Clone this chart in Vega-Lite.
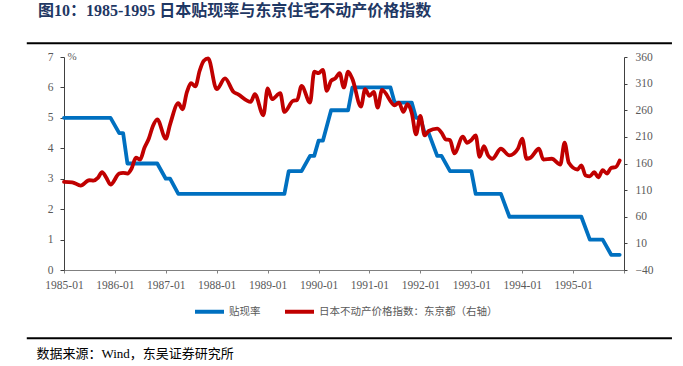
{
  "$schema": "https://vega.github.io/schema/vega-lite/v6.json",
  "width": 560,
  "height": 213,
  "autosize": {"type": "none"},
  "padding": {"left": 64, "top": 57, "right": 59, "bottom": 96},
  "background": "white",
  "title": {
    "text": "图10：1985-1995 日本贴现率与东京住宅不动产价格指数",
    "anchor": "start",
    "frame": "group",
    "font": "Liberation Serif, Noto Sans CJK SC",
    "fontSize": 16,
    "fontWeight": "bold",
    "color": "#1F3864",
    "dx": -26,
    "offset": 23
  },
  "config": {
    "view": {"stroke": null},
    "axis": {
      "grid": false,
      "labelFont": "Liberation Serif",
      "labelFontSize": 11.5,
      "labelColor": "#595959",
      "domainColor": "#404040",
      "tickColor": "#404040"
    },
    "legend": {
      "labelFont": "Noto Sans CJK SC",
      "labelFontSize": 10.5,
      "labelColor": "#595959"
    }
  },
  "datasets": {
    "rate": [
      {"date": "1985-01-01", "value": 5.0, "series": "贴现率"},
      {"date": "1985-12-01", "value": 5.0, "series": "贴现率"},
      {"date": "1986-02-01", "value": 4.5, "series": "贴现率"},
      {"date": "1986-03-01", "value": 4.5, "series": "贴现率"},
      {"date": "1986-04-01", "value": 3.5, "series": "贴现率"},
      {"date": "1986-11-01", "value": 3.5, "series": "贴现率"},
      {"date": "1987-01-01", "value": 3.0, "series": "贴现率"},
      {"date": "1987-02-01", "value": 3.0, "series": "贴现率"},
      {"date": "1987-04-01", "value": 2.5, "series": "贴现率"},
      {"date": "1989-05-01", "value": 2.5, "series": "贴现率"},
      {"date": "1989-06-01", "value": 3.25, "series": "贴现率"},
      {"date": "1989-09-01", "value": 3.25, "series": "贴现率"},
      {"date": "1989-11-01", "value": 3.75, "series": "贴现率"},
      {"date": "1989-12-01", "value": 3.75, "series": "贴现率"},
      {"date": "1990-01-01", "value": 4.25, "series": "贴现率"},
      {"date": "1990-02-01", "value": 4.25, "series": "贴现率"},
      {"date": "1990-04-01", "value": 5.25, "series": "贴现率"},
      {"date": "1990-08-01", "value": 5.25, "series": "贴现率"},
      {"date": "1990-09-01", "value": 6.0, "series": "贴现率"},
      {"date": "1991-06-01", "value": 6.0, "series": "贴现率"},
      {"date": "1991-07-01", "value": 5.5, "series": "贴现率"},
      {"date": "1991-11-01", "value": 5.5, "series": "贴现率"},
      {"date": "1991-12-01", "value": 5.0, "series": "贴现率"},
      {"date": "1992-01-01", "value": 5.0, "series": "贴现率"},
      {"date": "1992-02-01", "value": 4.5, "series": "贴现率"},
      {"date": "1992-03-01", "value": 4.5, "series": "贴现率"},
      {"date": "1992-05-01", "value": 3.75, "series": "贴现率"},
      {"date": "1992-06-01", "value": 3.75, "series": "贴现率"},
      {"date": "1992-08-01", "value": 3.25, "series": "贴现率"},
      {"date": "1993-01-01", "value": 3.25, "series": "贴现率"},
      {"date": "1993-02-01", "value": 2.5, "series": "贴现率"},
      {"date": "1993-08-01", "value": 2.5, "series": "贴现率"},
      {"date": "1993-10-01", "value": 1.75, "series": "贴现率"},
      {"date": "1995-03-01", "value": 1.75, "series": "贴现率"},
      {"date": "1995-05-01", "value": 1.0, "series": "贴现率"},
      {"date": "1995-08-01", "value": 1.0, "series": "贴现率"},
      {"date": "1995-10-01", "value": 0.5, "series": "贴现率"},
      {"date": "1995-12-01", "value": 0.5, "series": "贴现率"}
    ],
    "price": [
      {"date": "1985-01-01", "value": 125.5, "series": "日本不动产价格指数：东京都（右轴）"},
      {"date": "1985-03-01", "value": 124.7, "series": "日本不动产价格指数：东京都（右轴）"},
      {"date": "1985-05-01", "value": 118.5, "series": "日本不动产价格指数：东京都（右轴）"},
      {"date": "1985-07-01", "value": 128.5, "series": "日本不动产价格指数：东京都（右轴）"},
      {"date": "1985-08-01", "value": 127.9, "series": "日本不动产价格指数：东京都（右轴）"},
      {"date": "1985-09-01", "value": 133.0, "series": "日本不动产价格指数：东京都（右轴）"},
      {"date": "1985-10-01", "value": 143.6, "series": "日本不动产价格指数：东京都（右轴）"},
      {"date": "1985-11-01", "value": 133.0, "series": "日本不动产价格指数：东京都（右轴）"},
      {"date": "1985-12-01", "value": 120.4, "series": "日本不动产价格指数：东京都（右轴）"},
      {"date": "1986-02-01", "value": 141.1, "series": "日本不动产价格指数：东京都（右轴）"},
      {"date": "1986-03-01", "value": 142.5, "series": "日本不动产价格指数：东京都（右轴）"},
      {"date": "1986-04-01", "value": 141.1, "series": "日本不动产价格指数：东京都（右轴）"},
      {"date": "1986-05-01", "value": 150.6, "series": "日本不动产价格指数：东京都（右轴）"},
      {"date": "1986-06-01", "value": 170.8, "series": "日本不动产价格指数：东京都（右轴）"},
      {"date": "1986-07-01", "value": 167.5, "series": "日本不动产价格指数：东京都（右轴）"},
      {"date": "1986-08-01", "value": 189.6, "series": "日本不动产价格指数：东京都（右轴）"},
      {"date": "1986-09-01", "value": 206.6, "series": "日本不动产价格指数：东京都（右轴）"},
      {"date": "1986-10-01", "value": 230.4, "series": "日本不动产价格指数：东京都（右轴）"},
      {"date": "1986-11-01", "value": 243.0, "series": "日本不动产价格指数：东京都（右轴）"},
      {"date": "1987-01-01", "value": 206.6, "series": "日本不动产价格指数：东京都（右轴）"},
      {"date": "1987-02-01", "value": 233.6, "series": "日本不动产价格指数：东京都（右轴）"},
      {"date": "1987-04-01", "value": 273.2, "series": "日本不动产价格指数：东京都（右轴）"},
      {"date": "1987-05-01", "value": 261.9, "series": "日本不动产价格指数：东京都（右轴）"},
      {"date": "1987-06-01", "value": 293.4, "series": "日本不动产价格指数：东京都（右轴）"},
      {"date": "1987-07-01", "value": 310.9, "series": "日本不动产价格指数：东京都（右轴）"},
      {"date": "1987-08-01", "value": 304.7, "series": "日本不动产价格指数：东京都（右轴）"},
      {"date": "1987-09-01", "value": 334.2, "series": "日本不动产价格指数：东京都（右轴）"},
      {"date": "1987-10-01", "value": 353.0, "series": "日本不动产价格指数：东京都（右轴）"},
      {"date": "1987-11-01", "value": 357.5, "series": "日本不动产价格指数：东京都（右轴）"},
      {"date": "1988-01-01", "value": 299.6, "series": "日本不动产价格指数：东京都（右轴）"},
      {"date": "1988-03-01", "value": 319.8, "series": "日本不动产价格指数：东京都（右轴）"},
      {"date": "1988-05-01", "value": 294.5, "series": "日本不动产价格指数：东京都（右轴）"},
      {"date": "1988-06-01", "value": 290.2, "series": "日本不动产价格指数：东京都（右轴）"},
      {"date": "1988-09-01", "value": 275.7, "series": "日本不动产价格指数：东京都（右轴）"},
      {"date": "1988-10-01", "value": 290.2, "series": "日本不动产价格指数：东京都（右轴）"},
      {"date": "1988-12-01", "value": 250.6, "series": "日本不动产价格指数：东京都（右轴）"},
      {"date": "1989-01-01", "value": 300.9, "series": "日本不动产价格指数：东京都（右轴）"},
      {"date": "1989-02-01", "value": 280.8, "series": "日本不动产价格指数：东京都（右轴）"},
      {"date": "1989-04-01", "value": 292.1, "series": "日本不动产价格指数：东京都（右轴）"},
      {"date": "1989-05-01", "value": 256.8, "series": "日本不动产价格指数：东京都（右轴）"},
      {"date": "1989-07-01", "value": 277.6, "series": "日本不动产价格指数：东京都（右轴）"},
      {"date": "1989-08-01", "value": 279.4, "series": "日本不动产价格指数：东京都（右轴）"},
      {"date": "1989-09-01", "value": 305.8, "series": "日本不动产价格指数：东京都（右轴）"},
      {"date": "1989-11-01", "value": 274.5, "series": "日本不动产价格指数：东京都（右轴）"},
      {"date": "1989-12-01", "value": 332.3, "series": "日本不动产价格指数：东京都（右轴）"},
      {"date": "1990-01-01", "value": 329.8, "series": "日本不动产价格指数：东京都（右轴）"},
      {"date": "1990-02-01", "value": 336.0, "series": "日本不动产价格指数：东京都（右轴）"},
      {"date": "1990-03-01", "value": 296.4, "series": "日本不动产价格指数：东京都（右轴）"},
      {"date": "1990-04-01", "value": 315.3, "series": "日本不动产价格指数：东京都（右轴）"},
      {"date": "1990-05-01", "value": 319.8, "series": "日本不动产价格指数：东京都（右轴）"},
      {"date": "1990-06-01", "value": 329.8, "series": "日本不动产价格指数：东京都（右轴）"},
      {"date": "1990-07-01", "value": 302.8, "series": "日本不动产价格指数：东京都（右轴）"},
      {"date": "1990-08-01", "value": 332.3, "series": "日本不动产价格指数：东京都（右轴）"},
      {"date": "1990-09-01", "value": 318.5, "series": "日本不动产价格指数：东京都（右轴）"},
      {"date": "1990-11-01", "value": 267.0, "series": "日本不动产价格指数：东京都（右轴）"},
      {"date": "1990-12-01", "value": 299.6, "series": "日本不动产价格指数：东京都（右轴）"},
      {"date": "1991-01-01", "value": 287.0, "series": "日本不动产价格指数：东京都（右轴）"},
      {"date": "1991-02-01", "value": 294.5, "series": "日本不动产价格指数：东京都（右轴）"},
      {"date": "1991-03-01", "value": 265.1, "series": "日本不动产价格指数：东京都（右轴）"},
      {"date": "1991-04-01", "value": 298.3, "series": "日本不动产价格指数：东京都（右轴）"},
      {"date": "1991-07-01", "value": 269.4, "series": "日本不动产价格指数：东京都（右轴）"},
      {"date": "1991-08-01", "value": 274.5, "series": "日本不动产价格指数：东京都（右轴）"},
      {"date": "1991-09-01", "value": 256.8, "series": "日本不动产价格指数：东京都（右轴）"},
      {"date": "1991-10-01", "value": 271.3, "series": "日本不动产价格指数：东京都（右轴）"},
      {"date": "1991-11-01", "value": 254.3, "series": "日本不动产价格指数：东京都（右轴）"},
      {"date": "1991-12-01", "value": 214.7, "series": "日本不动产价格指数：东京都（右轴）"},
      {"date": "1992-01-01", "value": 249.2, "series": "日本不动产价格指数：东京都（右轴）"},
      {"date": "1992-02-01", "value": 212.8, "series": "日本不动产价格指数：东京都（右轴）"},
      {"date": "1992-03-01", "value": 221.0, "series": "日本不动产价格指数：东京都（右轴）"},
      {"date": "1992-05-01", "value": 225.5, "series": "日本不动产价格指数：东京都（右轴）"},
      {"date": "1992-06-01", "value": 217.9, "series": "日本不动产价格指数：东京都（右轴）"},
      {"date": "1992-07-01", "value": 205.3, "series": "日本不动产价格指数：东京都（右轴）"},
      {"date": "1992-08-01", "value": 204.0, "series": "日本不动产价格指数：东京都（右轴）"},
      {"date": "1992-09-01", "value": 178.9, "series": "日本不动产价格指数：东京都（右轴）"},
      {"date": "1992-11-01", "value": 210.4, "series": "日本不动产价格指数：东京都（右轴）"},
      {"date": "1992-12-01", "value": 199.0, "series": "日本不动产价格指数：东京都（右轴）"},
      {"date": "1993-01-01", "value": 204.0, "series": "日本不动产价格指数：东京都（右轴）"},
      {"date": "1993-02-01", "value": 212.8, "series": "日本不动产价格指数：东京都（右轴）"},
      {"date": "1993-03-01", "value": 172.6, "series": "日本不动产价格指数：东京都（右轴）"},
      {"date": "1993-04-01", "value": 192.6, "series": "日本不动产价格指数：东京都（右轴）"},
      {"date": "1993-05-01", "value": 175.1, "series": "日本不动产价格指数：东京都（右轴）"},
      {"date": "1993-06-01", "value": 168.9, "series": "日本不动产价格指数：东京都（右轴）"},
      {"date": "1993-08-01", "value": 187.7, "series": "日本不动产价格指数：东京都（右轴）"},
      {"date": "1993-10-01", "value": 175.1, "series": "日本不动产价格指数：东京都（右轴）"},
      {"date": "1993-12-01", "value": 187.7, "series": "日本不动产价格指数：东京都（右轴）"},
      {"date": "1994-01-01", "value": 206.6, "series": "日本不动产价格指数：东京都（右轴）"},
      {"date": "1994-02-01", "value": 168.9, "series": "日本不动产价格指数：东京都（右轴）"},
      {"date": "1994-03-01", "value": 170.8, "series": "日本不动产价格指数：东京都（右轴）"},
      {"date": "1994-05-01", "value": 187.7, "series": "日本不动产价格指数：东京都（右轴）"},
      {"date": "1994-06-01", "value": 167.5, "series": "日本不动产价格指数：东京都（右轴）"},
      {"date": "1994-08-01", "value": 168.9, "series": "日本不动产价格指数：东京都（右轴）"},
      {"date": "1994-10-01", "value": 158.1, "series": "日本不动产价格指数：东京都（右轴）"},
      {"date": "1994-11-01", "value": 199.0, "series": "日本不动产价格指数：东京都（右轴）"},
      {"date": "1994-12-01", "value": 161.3, "series": "日本不动产价格指数：东京都（右轴）"},
      {"date": "1995-02-01", "value": 148.7, "series": "日本不动产价格指数：东京都（右轴）"},
      {"date": "1995-03-01", "value": 156.2, "series": "日本不动产价格指数：东京都（右轴）"},
      {"date": "1995-04-01", "value": 137.4, "series": "日本不动产价格指数：东京都（右轴）"},
      {"date": "1995-05-01", "value": 136.0, "series": "日本不动产价格指数：东京都（右轴）"},
      {"date": "1995-06-01", "value": 143.6, "series": "日本不动产价格指数：东京都（右轴）"},
      {"date": "1995-07-01", "value": 134.2, "series": "日本不动产价格指数：东京都（右轴）"},
      {"date": "1995-08-01", "value": 147.4, "series": "日本不动产价格指数：东京都（右轴）"},
      {"date": "1995-09-01", "value": 141.1, "series": "日本不动产价格指数：东京都（右轴）"},
      {"date": "1995-10-01", "value": 151.9, "series": "日本不动产价格指数：东京都（右轴）"},
      {"date": "1995-11-01", "value": 153.0, "series": "日本不动产价格指数：东京都（右轴）"},
      {"date": "1995-12-01", "value": 165.7, "series": "日本不动产价格指数：东京都（右轴）"}
    ]
  },
  "layer": [
    {
      "data": {"values": [{}]},
      "mark": {"type": "rule", "color": "#000000", "strokeWidth": 2, "clip": false},
      "encoding": {
        "x": {"datum": {"year": 1984, "month": 4, "date": 9}, "type": "temporal", "scale": {"domain": [{"year": 1985, "month": 1, "date": 1}, {"year": 1996, "month": 1, "date": 1}]}},
        "x2": {"datum": {"year": 1996, "month": 12, "date": 10}},
        "y": {"datum": 7.45, "type": "quantitative", "scale": {"domain": [0, 7], "nice": false}, "axis": null}
      }
    },
    {
      "data": {"values": [{}]},
      "mark": {"type": "rule", "color": "#000000", "strokeWidth": 2, "clip": false},
      "encoding": {
        "x": {"datum": {"year": 1984, "month": 4, "date": 9}, "type": "temporal", "scale": {"domain": [{"year": 1985, "month": 1, "date": 1}, {"year": 1996, "month": 1, "date": 1}]}},
        "x2": {"datum": {"year": 1996, "month": 12, "date": 10}},
        "y": {"datum": -2.24, "type": "quantitative", "scale": {"domain": [0, 7], "nice": false}, "axis": null}
      }
    },
    {
      "data": {"name": "rate"},
      "mark": {"type": "line", "strokeWidth": 3.8, "strokeJoin": "round", "strokeCap": "round"},
      "encoding": {
        "x": {
          "field": "date",
          "type": "temporal",
          "scale": {"domain": [{"year": 1985, "month": 1, "date": 1}, {"year": 1996, "month": 1, "date": 1}]},
          "axis": {
            "values": [
              {"year": 1985, "month": 1, "date": 1}, {"year": 1986, "month": 1, "date": 1},
              {"year": 1987, "month": 1, "date": 1}, {"year": 1988, "month": 1, "date": 1},
              {"year": 1989, "month": 1, "date": 1}, {"year": 1990, "month": 1, "date": 1},
              {"year": 1991, "month": 1, "date": 1}, {"year": 1992, "month": 1, "date": 1},
              {"year": 1993, "month": 1, "date": 1}, {"year": 1994, "month": 1, "date": 1},
              {"year": 1995, "month": 1, "date": 1}, {"year": 1996, "month": 1, "date": 1}
            ],
            "labelExpr": "year(datum.value) >= 1996 ? '' : timeFormat(datum.value, '%Y-%m')",
            "tickSize": 3,
            "labelPadding": 6,
            "labelAlign": "center",
            "labelFlush": false,
            "labelOverlap": false,
            "domainColor": "#808080",
            "tickColor": "#808080",
            "title": "数据来源：Wind，东吴证券研究所",
            "titleX": -28,
            "titleY": 83,
            "titleAlign": "left",
            "titleAnchor": "start",
            "titleBaseline": "middle",
            "titleFont": "Liberation Serif, Noto Sans CJK SC",
            "titleFontSize": 13,
            "titleFontWeight": "normal",
            "titleColor": "#000000"
          }
        },
        "y": {
          "field": "value",
          "type": "quantitative",
          "scale": {"domain": [0, 7], "nice": false},
          "axis": {
            "values": [0, 1, 2, 3, 4, 5, 6, 7],
            "tickSize": 4,
            "labelPadding": 7,
            "title": "%",
            "titleAngle": 0,
            "titleX": 3,
            "titleY": -1,
            "titleAlign": "left",
            "titleBaseline": "middle",
            "titleFont": "Liberation Serif",
            "titleFontSize": 11,
            "titleFontWeight": "normal",
            "titleColor": "#595959"
          }
        },
        "color": {
          "field": "series",
          "type": "nominal",
          "scale": {"domain": ["贴现率", "日本不动产价格指数：东京都（右轴）"], "range": ["#0070C0", "#C00000"]},
          "legend": {
            "orient": "none",
            "legendX": 129,
            "legendY": 238,
            "direction": "horizontal",
            "title": null,
            "symbolType": "stroke",
            "symbolStrokeWidth": 4,
            "symbolSize": 841,
            "labelLimit": 300,
            "labelOffset": 3,
            "columnPadding": 16
          }
        }
      }
    },
    {
      "data": {"name": "price"},
      "mark": {"type": "line", "strokeWidth": 3.8, "interpolate": "monotone", "strokeJoin": "round", "strokeCap": "round"},
      "encoding": {
        "x": {"field": "date", "type": "temporal", "scale": {"domain": [{"year": 1985, "month": 1, "date": 1}, {"year": 1996, "month": 1, "date": 1}]}},
        "y": {
          "field": "value",
          "type": "quantitative",
          "scale": {"domain": [-40, 360], "nice": false, "zero": false},
          "axis": {
            "orient": "right",
            "values": [-40, 10, 60, 110, 160, 210, 260, 310, 360],
            "tickSize": 3,
            "labelPadding": 8,
            "title": null
          }
        },
        "color": {"field": "series", "type": "nominal"}
      }
    }
  ],
  "resolve": {"scale": {"y": "independent"}}
}
